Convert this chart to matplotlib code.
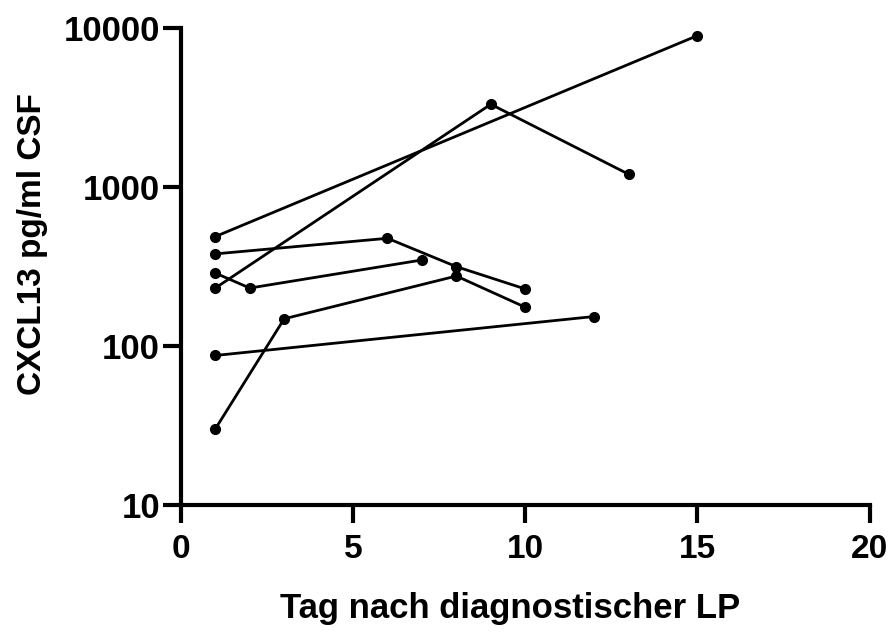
"""CXCL13 in CSF over time after diagnostic LP, one line per patient."""

import matplotlib
matplotlib.use("Agg")
import matplotlib.pyplot as plt

plt.rcParams["font.family"] = ["Liberation Sans", "DejaVu Sans"]
plt.rcParams["font.weight"] = "bold"

# day after diagnostic LP / CXCL13 (pg/ml CSF), per patient
days_a = [1, 15]
cxcl_a = [487, 8950]
days_b = [1, 9, 13]
cxcl_b = [231, 3310, 1202]
days_c = [1, 6, 8, 10]
cxcl_c = [379, 475, 315, 228]
days_d = [1, 2, 7]
cxcl_d = [287, 231, 347]
days_e = [1, 3, 8, 10]
cxcl_e = [30, 148, 275, 175]
days_f = [1, 12]
cxcl_f = [87, 153]

patients = [
    (days_a, cxcl_a),
    (days_b, cxcl_b),
    (days_c, cxcl_c),
    (days_d, cxcl_d),
    (days_e, cxcl_e),
    (days_f, cxcl_f),
]

x_ticks = [0, 5, 10, 15, 20]
y_ticks = [10, 100, 1000, 10000]
y_ticklabels = ["10", "100", "1000", "10000"]

fig = plt.figure(figsize=(8.91, 6.35), dpi=100)
ax = fig.add_axes([0.203, 0.205, 0.773, 0.751])

for days, vals in patients:
    ax.plot(days, vals, color="black", lw=2.0, marker="o", ms=7,
            clip_on=False, zorder=3)

ax.set_yscale("log")
ax.set_xlim(0, 20)
ax.set_ylim(10, 10000)
ax.set_xticks(x_ticks)
ax.set_yticks(y_ticks)
ax.set_yticklabels(y_ticklabels)
ax.yaxis.set_minor_locator(matplotlib.ticker.NullLocator())

for side in ("top", "right"):
    ax.spines[side].set_visible(False)
for side in ("left", "bottom"):
    ax.spines[side].set_linewidth(3.0)
    ax.spines[side].set_capstyle("projecting")

ax.tick_params(axis="both", which="major", direction="out", length=13,
               width=3.0, color="black")
ax.tick_params(axis="y", labelsize=25, pad=2)
ax.tick_params(axis="x", labelsize=24, pad=8)
for lbl in ax.get_xticklabels() + ax.get_yticklabels():
    lbl.set_fontweight("bold")

ax.set_xlabel("Tag nach diagnostischer LP", fontsize=25, fontweight="bold")
ax.set_ylabel("CXCL13 pg/ml CSF", fontsize=24, fontweight="bold")
ax.xaxis.set_label_coords(0.478, -0.182)
ax.yaxis.set_label_coords(-0.193, 0.547)

fig.savefig("out.png", dpi=100)
plt.close(fig)
